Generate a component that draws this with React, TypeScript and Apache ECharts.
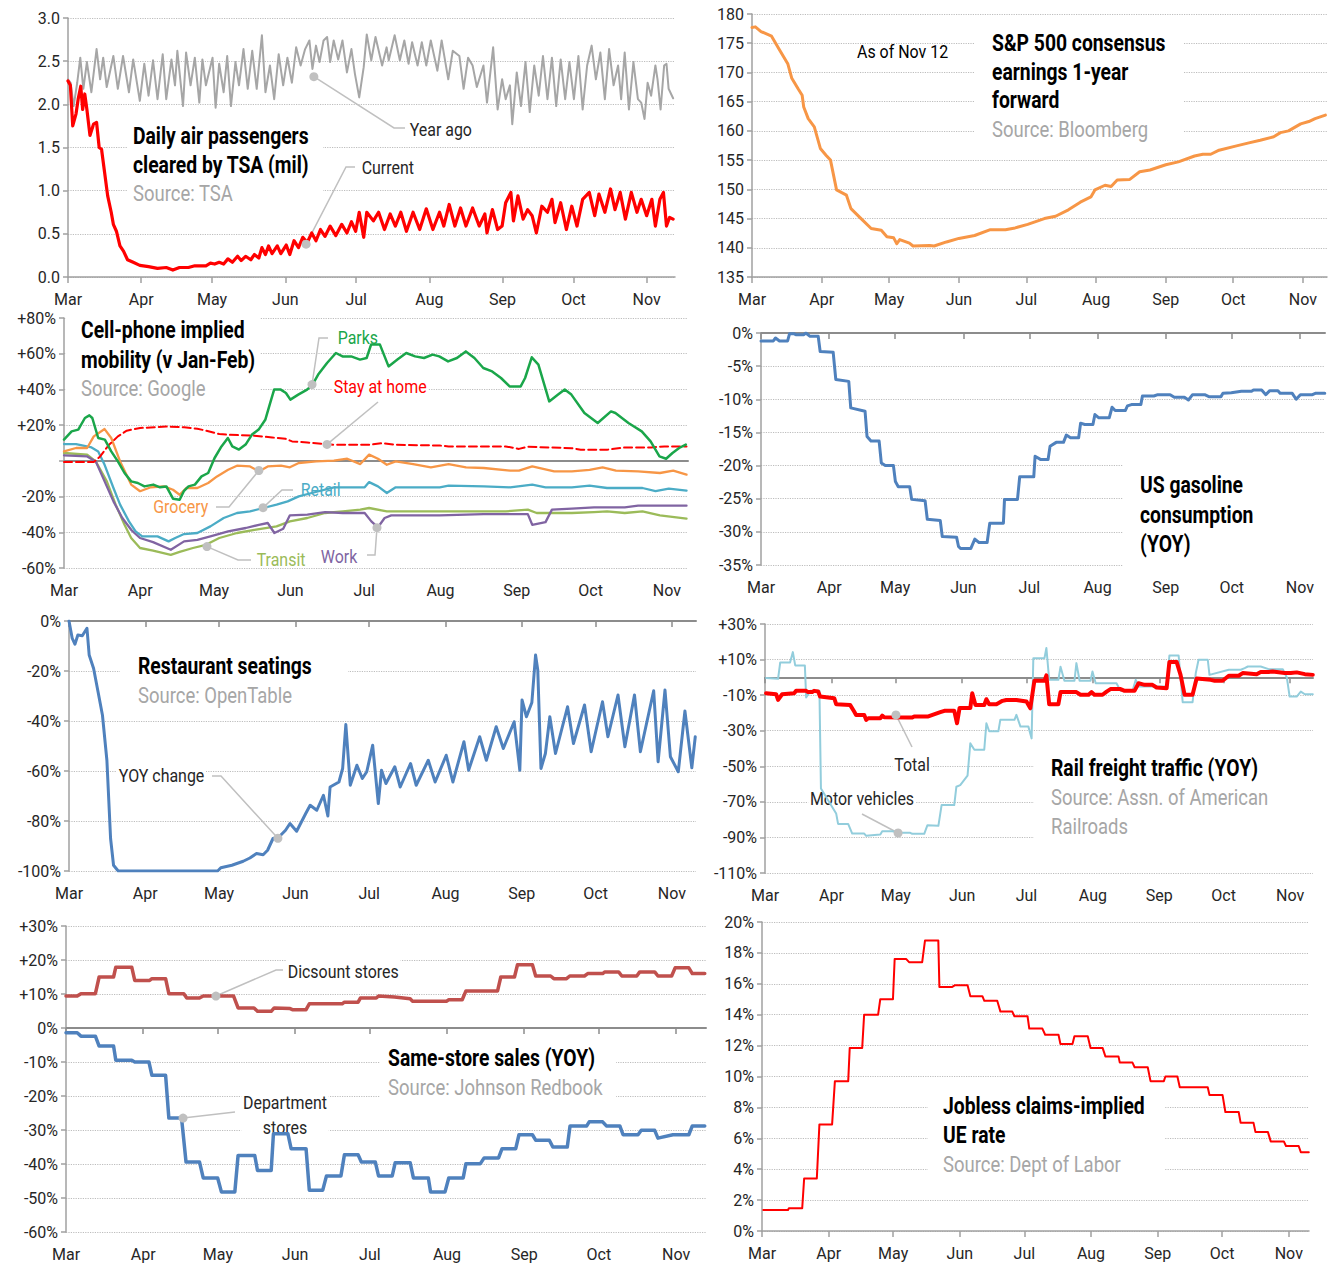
import React, { useEffect, useRef } from 'react';
import * as echarts from 'echarts';

type P = [number, number];

// x = days since Mar 1 (2020)
const monthDays = [0, 31, 61, 92, 122, 153, 184, 214, 245];
const monthNames = ['Mar', 'Apr', 'May', 'Jun', 'Jul', 'Aug', 'Sep', 'Oct', 'Nov'];

// ---- TSA (millions) ----
const tsaCurrent: P[] = [[0,2.27],[1,2.22],[2,1.75],[3.4,1.89],[4.3,2.06],[5.4,2.21],[6.2,1.94],[7.1,2.12],[8,1.94],[9.3,1.64],[10.8,1.77],[12.1,1.79],[13.2,1.5],[14.2,1.48],[15.5,1.21],[16.8,0.94],[18.3,0.75],[19.2,0.61],[20.5,0.53],[22,0.36],[23.5,0.3],[25.2,0.2],[27.6,0.17],[30.4,0.135],[34.1,0.12],[37.9,0.1],[41.6,0.11],[44.4,0.08],[47.2,0.11],[51,0.11],[53.7,0.13],[58.4,0.13],[60.3,0.16],[62.1,0.15],[64,0.17],[65.9,0.15],[67.7,0.21],[69.6,0.17],[71.8,0.24],[73.3,0.19],[75.2,0.24],[77.4,0.2],[78.9,0.26],[80.8,0.22],[82.1,0.34],[83.6,0.26],[84.9,0.36],[86.4,0.27],[88.6,0.36],[90.1,0.27],[92.4,0.37],[93.9,0.26],[95.7,0.42],[97.6,0.34],[99.4,0.46],[101.3,0.4],[103.2,0.51],[105,0.42],[106.9,0.55],[108.8,0.47],[111,0.59],[113.4,0.48],[115.9,0.61],[118.1,0.51],[120,0.64],[121.8,0.53],[123.3,0.75],[125.2,0.46],[126.5,0.75],[129.3,0.65],[131.5,0.75],[134,0.55],[136.4,0.73],[138.6,0.59],[140.9,0.75],[143.3,0.53],[146.1,0.75],[148.9,0.55],[151.7,0.79],[154.5,0.55],[157.3,0.75],[159.1,0.59],[161.4,0.84],[163.8,0.59],[166.2,0.8],[168.5,0.59],[171.3,0.8],[174.1,0.59],[176.5,0.73],[177.4,0.51],[179.7,0.78],[181.9,0.55],[183.8,0.59],[185.3,0.86],[187.5,0.98],[188.6,0.65],[190.5,0.94],[192.7,0.67],[194.6,0.78],[196.5,0.71],[198.3,0.51],[200.6,0.82],[203,0.75],[204.9,0.9],[206.2,0.63],[208.6,0.86],[211,0.55],[213.3,0.82],[215.5,0.59],[217.9,0.9],[220.7,0.98],[223,0.71],[224.8,0.96],[227.3,0.75],[229.7,1.02],[231.6,0.78],[233.8,0.98],[236,0.67],[238.5,0.98],[240.9,0.75],[242.7,0.9],[245,0.71],[247.2,0.9],[248.7,0.59],[250.6,0.9],[252.1,0.98],[253.4,0.59],[254.7,0.69],[256.2,0.67]];
const tsaYearAgo: P[] = [[0,2.29],[1.1,2.25],[2.4,1.98],[3.9,2.25],[5.2,2.54],[6.5,2.18],[8,2.49],[9.9,2.14],[12.1,2.64],[13.6,2.29],[14.9,2.54],[16.4,2.2],[19.2,2.56],[21.1,2.18],[23.3,2.56],[25.8,2.14],[27.6,2.52],[30.4,2.04],[32.3,2.47],[34.1,2.1],[36,2.51],[37.9,2.06],[40.1,2.58],[41.6,2.06],[43.8,2.52],[45.3,2.22],[46.3,2.62],[48.7,1.98],[50,2.6],[51.9,2.22],[53.7,2.54],[55.6,2.02],[56.9,2.52],[58.4,2.22],[61.2,2.54],[62.5,1.96],[64,2.47],[65.9,2.14],[67.4,2.56],[69,1.98],[70.9,2.49],[72.4,2.22],[74.3,2.64],[76.1,2.18],[78,2.62],[79.9,2.18],[82.1,2.8],[83.6,2.14],[85.5,2.45],[87.3,2.06],[89.2,2.58],[91.1,2.22],[92.9,2.54],[94.8,2.25],[96.6,2.66],[98.5,2.45],[100.4,2.64],[102.2,2.74],[103.5,2.41],[105,2.68],[106.5,2.49],[108.2,2.74],[109.7,2.78],[111,2.49],[112.5,2.74],[114.4,2.52],[116.2,2.74],[118.1,2.37],[120,2.64],[121.5,2.35],[123.3,2.08],[125.2,2.43],[126.5,2.81],[128.4,2.51],[130.2,2.78],[133,2.45],[134.9,2.66],[135.8,2.51],[138.3,2.8],[140.5,2.51],[142.4,2.74],[144.2,2.47],[145.7,2.72],[148,2.45],[149.8,2.72],[151.7,2.45],[153.6,2.74],[156.4,2.39],[158.2,2.74],[161,2.29],[162.9,2.62],[165.7,2.56],[167.5,2.18],[169.4,2.54],[171.3,2.45],[173.1,2.2],[175.9,2.45],[177.4,2.02],[180,2.66],[181.9,1.94],[183.8,2.29],[185.3,2.06],[187.1,2.22],[188.1,1.77],[190,2.37],[191.8,1.98],[193.7,2.49],[195.5,1.91],[197.4,2.45],[199.3,2.1],[201.1,2.56],[203,2.06],[204.9,2.54],[206.7,1.98],[208.6,2.52],[210.5,2.06],[212.3,2.49],[214.2,2.06],[216.1,2.56],[217.9,1.94],[219.8,2.45],[221.7,2.68],[223.5,2.29],[225.4,2.6],[227.3,2.06],[229.1,2.64],[231,2.22],[232.9,2.45],[234.2,2.06],[235.7,2.6],[237.5,1.94],[239.4,2.49],[241.3,2.06],[242.7,2.02],[244.1,1.83],[245.4,2.25],[246.9,2.1],[248.7,2.45],[249.6,2.29],[250.9,1.94],[252.4,2.45],[253.4,2.47],[254.3,2.18],[256.2,2.07]];

// ---- S&P 500 consensus earnings ----
const spEarnings: P[] = [[0,177.7],[1.5,177.8],[4,177],[8.7,176.2],[12,174],[15.9,171.5],[17.7,169],[20.5,167.2],[22.3,166.1],[23,164.1],[25,162.1],[27.7,160.7],[30.4,157],[33,155.8],[34.9,155],[37.6,149.9],[42,149],[44,146.7],[48.5,145],[53,143.3],[57.5,143],[60,141.9],[63,141.7],[64.4,140.7],[65.7,141.4],[70,140.8],[71.6,140.3],[79,140.4],[81,140.3],[86.5,141],[92,141.6],[99,142.1],[106,143.1],[112.7,143.1],[117,143.4],[122.6,144],[130,145],[135,145.4],[140.7,146.5],[146,147.8],[150.7,148.7],[152.5,149.9],[157,150.7],[159.7,150.5],[162.4,151.6],[168,151.7],[172.4,153],[177,153.3],[184,154.2],[189.6,154.7],[196.8,155.7],[200.5,156],[204,156],[207.7,156.7],[215,157.4],[220.5,157.9],[226,158.4],[232,159],[235,159.7],[238.6,160],[244,161.2],[247.6,161.6],[250.4,162.1],[255,162.7]];

// ---- Google mobility (% vs Jan-Feb) ----
const parks: P[] = [[0,11.9],[3.1,16.5],[5.8,17.5],[8.5,24],[10.3,25.5],[11.5,24],[13.9,12.8],[16.6,11.9],[19.2,5.3],[21.9,-0.3],[24.6,-6.8],[27.3,-11.5],[30,-12.4],[32.7,-14.3],[36.3,-13.3],[39,-14.8],[41.6,-14.3],[44.3,-21.2],[47,-21.8],[48.7,-17],[50.6,-14.3],[53.2,-13.3],[55.9,-8.7],[58.6,-6.8],[61.2,1.6],[64,8.1],[66.6,12.8],[68.4,8.1],[71.1,6.3],[73.8,9.1],[76.4,14.7],[79.1,17.5],[81.8,23],[83.6,31.5],[85.4,39.9],[88.1,39.9],[90.2,38],[92,34.3],[95.2,37.1],[98.8,39.9],[101,42.7],[103.3,48.3],[106.9,54.8],[110.5,60.4],[113.2,58.5],[116.7,58.5],[120.3,56.7],[123,57.6],[124.8,65.1],[128.4,65.1],[131.9,52.9],[135.5,56.7],[139.1,60.4],[142.7,58.5],[146.3,57.6],[149.8,59.5],[152.5,58.5],[156.1,55.7],[159.7,57.6],[163.3,61.3],[166.8,57.6],[170.4,52],[174,50.1],[177.6,46.4],[181.1,41.7],[185.6,41.7],[187.4,46.4],[190.1,58],[192.8,53.9],[197.2,33.3],[200.8,37.1],[203.5,39.9],[206.2,37.1],[211.5,26.8],[216.9,21.2],[222.3,27.7],[224.1,26.8],[229.4,21.2],[234.8,16.5],[238.4,10.9],[242,2.5],[244.7,1.2],[247.3,4.4],[250,7.2],[252.7,9.1]];
const stayHome: P[] = [[0,-0.7],[12.1,-0.7],[14.7,2.5],[18.3,9],[21.9,13.7],[25.5,16.9],[30.9,18.4],[41.6,19.2],[48.8,18.8],[54.2,18],[57.7,16.9],[63.1,15],[66.7,14.6],[77.4,14.1],[84.6,13.1],[90,12.4],[92.7,10.9],[98.9,10.3],[109.7,9],[124,9],[129.4,9.9],[134.8,9],[152.7,8.6],[156.3,8.1],[179.5,8.1],[184.9,6.7],[188.5,7.9],[206.4,7.1],[210,6.2],[220.7,6.2],[227.9,7.5],[238.6,7.5],[244,8.1],[253,8.1]];
const grocery: P[] = [[0,5.3],[4.9,7.2],[9.4,7.2],[12.1,13.7],[16.5,17.8],[19.2,12.8],[22.8,-0.3],[27.3,-13.3],[30.9,-17],[35.3,-14.8],[40.7,-14.3],[44.3,-16.2],[47,-19],[49.7,-15.2],[54.2,-15.2],[58.6,-12.4],[62.2,-8.7],[66.7,-5],[70.3,-2.7],[75.6,-3.1],[79.2,-5.9],[82.8,-3.1],[88.2,-2.7],[91.8,-3.6],[95.4,-1.2],[102.5,-0.3],[109.7,0.1],[115.1,1.2],[120.4,-1.8],[124,3.5],[127.6,1.2],[131.2,-2.2],[134.8,-0.3],[141.9,-1.8],[149.1,-3.6],[156.3,-1.8],[163.4,-3.6],[170.6,-4],[181.3,-5.5],[184.9,-5.5],[190.3,-3.1],[199.2,-5.9],[206.4,-5.9],[213.6,-5],[218.9,-3.6],[224.3,-5.5],[233.3,-5.9],[242.2,-6.8],[247.6,-5.5],[253,-7.7]];
const retail: P[] = [[0,9.4],[4.9,9.4],[11.2,7.5],[13.9,5.3],[16.5,-2.2],[20.1,-15.2],[22.8,-24.5],[26.4,-33.9],[29.1,-39.5],[31.8,-42.3],[38,-42.3],[42.5,-45.1],[45.2,-43.2],[48.8,-41],[54.2,-40.4],[59.5,-36.7],[64.9,-32],[70.3,-29.2],[75.6,-28.3],[81,-26.4],[86.4,-24.5],[90.9,-22.7],[95.4,-19.9],[100.7,-18],[109.7,-14.8],[116.8,-14.8],[122.2,-14.8],[124,-11.9],[127.6,-14.3],[131.2,-18],[134.8,-14.8],[152.7,-14.8],[156.3,-13.9],[170.6,-14.3],[181.3,-14.8],[190.3,-13.3],[195.7,-14.8],[206.4,-14.8],[213.6,-13.9],[220.7,-15.2],[235.1,-15.2],[240.4,-17],[245.8,-15.6],[253,-16.7]];
const work: P[] = [[0,3.1],[9.4,2.5],[12.9,-0.3],[16.5,-11.5],[20.1,-22.7],[23.7,-32],[27.3,-38.6],[30.9,-43.2],[36.2,-45.5],[43.4,-49.8],[48.8,-45.1],[54.2,-44.2],[59.5,-42.3],[66.7,-39.5],[73.9,-37.6],[79.2,-35.8],[82.8,-34.8],[85.5,-40.4],[89.1,-38],[91.8,-30.5],[98.9,-30.1],[106.1,-28.7],[113.3,-29.2],[122.2,-29.2],[124.9,-33.9],[127.6,-37.2],[130.3,-32],[133,-30.5],[152.7,-30.5],[170.6,-29.8],[188.5,-29.8],[190.3,-35.8],[195.7,-34.3],[198.3,-27.3],[206.4,-26.8],[215.4,-26],[227.9,-26],[233.3,-25.1],[247.6,-25.1],[253,-25.1]];
const transit: P[] = [[0,4.4],[9.4,3.5],[12.9,-0.3],[17.4,-11.5],[21,-24.5],[24.6,-35.8],[27.3,-43.2],[30.9,-48.8],[36.2,-50.3],[43.4,-52.6],[47,-51],[52.4,-48.8],[57.7,-47],[63.1,-43.2],[70.3,-40.4],[77.4,-38.6],[86.4,-36.7],[91.8,-33.9],[98.9,-32],[106.1,-29.2],[113.3,-28.3],[120.4,-27.3],[124,-26.4],[131.2,-28.3],[152.7,-28.3],[179.5,-28.3],[188.5,-27.3],[192.1,-29.2],[206.4,-29.2],[215.4,-28.7],[220.7,-28.3],[227.9,-29.2],[235.1,-28.3],[242.2,-30.5],[253,-32.4]];

// ---- US gasoline consumption (YOY %) ----
const gasoline: P[] = [[0,-1.2],[5.6,-1.2],[6.6,-0.75],[8.4,-1.2],[12.1,-1.2],[13,-0.1],[14.9,-0.1],[15.8,-0.25],[19.5,-0.25],[20.4,0],[22.3,-0.5],[26,-0.5],[26.9,-2.8],[32.8,-2.9],[34,-7],[39.9,-7.3],[40.8,-11.3],[47.3,-11.8],[48.2,-15.6],[50,-16.3],[53.7,-16.3],[54.7,-19.6],[56.5,-20],[60.2,-20],[61.1,-22.4],[62.4,-23.2],[67.6,-23.2],[68.5,-25.1],[74.6,-25.3],[75.6,-28.1],[81.5,-28.3],[82.4,-30.7],[88.9,-30.8],[89.8,-32.2],[90.7,-32.5],[95.4,-32.5],[97.2,-31.1],[99.1,-31.6],[102.8,-31.6],[104,-28.7],[110.2,-28.7],[110.7,-25.1],[116.6,-25.1],[117.6,-21.7],[124,-21.7],[124.6,-18.6],[127.2,-19.1],[130.5,-19.1],[131.4,-17.1],[134.2,-16.5],[137.5,-16.5],[138.8,-15.4],[140.7,-15.8],[144.4,-15.8],[145.3,-13.6],[147.2,-13.8],[150.9,-13.8],[151.8,-12.3],[153.6,-12.8],[158.3,-12.8],[159.6,-11.2],[161,-11.7],[165.6,-11.7],[166.6,-11],[168.4,-10.8],[172.7,-10.8],[173.4,-9.5],[178.6,-9.5],[180.4,-9.3],[186,-9.3],[187.9,-9.7],[192.5,-9.7],[194.3,-10.1],[196.2,-9.3],[201.7,-9.3],[203.6,-9.6],[209.1,-9.6],[210,-9.1],[213.8,-9],[218.4,-8.8],[223,-8.8],[223.9,-8.6],[227.6,-8.6],[229.5,-9.3],[231.3,-8.7],[235,-8.7],[236,-9.1],[241.5,-9.1],[243.3,-10],[245.2,-9.3],[250.7,-9.3],[252,-9.1],[256.3,-9.1]];

// ---- Restaurant seatings (YOY %) ----
const restaurant: P[] = [[0,0],[1.3,-6.9],[2.4,-9.3],[3.6,-5.6],[5.4,-5.9],[7.3,-2.9],[8.2,-13.6],[10,-19],[11.8,-28.3],[13.6,-37.7],[15.4,-55.7],[16.9,-87],[18.1,-97.7],[20,-100],[60.4,-100],[61.7,-98.7],[66.2,-97.7],[70.8,-96.1],[73.5,-94.8],[76.2,-93],[78.9,-93.5],[80.7,-91.7],[82.9,-87],[85.3,-86.4],[88,-83.7],[89.8,-81],[92.5,-84.1],[96.2,-77],[98,-73.7],[100.7,-75.7],[103.4,-69.7],[105.2,-78],[106.1,-66.4],[109.7,-64.4],[111.2,-59],[112.5,-41.4],[114.3,-65.7],[117,-57.7],[119.2,-63],[121,-60.3],[123.4,-49.7],[125.7,-73],[127,-59.7],[128.8,-65],[132.4,-58.3],[134.6,-66.4],[138.8,-57],[141.1,-65.7],[146,-55.7],[148.8,-64.4],[153.3,-53.7],[156,-64.4],[160.5,-48.3],[162.4,-59.7],[166.9,-46.3],[169.6,-55.7],[173.6,-42.3],[176.5,-51],[180.9,-40.3],[183.2,-59.7],[184.1,-31.6],[185.9,-38.3],[188.1,-32.6],[189.6,-13.6],[190.5,-19.6],[191.8,-59],[193.6,-53],[195.4,-38.3],[197.7,-53],[202.6,-34.3],[205,-49],[209.5,-33.6],[212.2,-52.3],[216.8,-32.3],[219,-46.3],[223.1,-29.6],[225.9,-50.3],[229.8,-29.6],[232.2,-52.3],[237.6,-27.9],[239.4,-56.3],[242.2,-27.6],[244.4,-54.3],[247.6,-60.3],[250.3,-36],[253.1,-58.7],[254.5,-46.3]];

// ---- Rail freight traffic (YOY %) ----
const railTotal: P[] = [[0.5,-8.9],[5.2,-9.5],[6.1,-12.7],[8,-9.5],[13.6,-8.9],[14.5,-7.6],[19.2,-7.6],[20.1,-8.3],[22,-8.3],[22.9,-7.6],[24.8,-8],[25.7,-10.8],[32.3,-11.7],[33.2,-15.1],[39.7,-15.5],[41.6,-19.2],[42.5,-21.1],[46.3,-21.1],[47.2,-23.9],[48.2,-23],[53.8,-23],[54.7,-21.5],[55.6,-22.4],[66.8,-22.6],[68.7,-22.6],[69.6,-22],[76.2,-22],[81.8,-19.6],[83.7,-18.8],[88.3,-18.8],[89.6,-25.8],[90.8,-17.2],[95.8,-17.2],[96.7,-8.9],[98.2,-15.5],[102.3,-15.5],[103.3,-12.3],[104.6,-15.1],[108,-15.1],[110.8,-13.2],[112.6,-12.7],[117.3,-12.7],[122,-13.6],[123.8,-17.4],[125.7,-1.9],[130.4,-1.9],[131.3,1.1],[132.6,-15.1],[136.9,-15.1],[137.9,-8.3],[145.3,-8.3],[147.2,-9.8],[151,-9.8],[152.4,-8.3],[153.7,-9.8],[157.5,-9.8],[159.4,-8],[161.2,-6.6],[165.9,-6.6],[167.8,-7.6],[172.4,-7.6],[174.3,-3.3],[177.1,-4.2],[180.8,-4.2],[182.7,-5.7],[187.4,-6.1],[188.7,8.6],[192.1,8.6],[193.9,1.4],[195.8,-9.8],[199.5,-9.8],[201.4,-0.7],[207.9,-1.4],[209.8,-1.9],[213.5,-1.9],[216.4,0.9],[221,0.9],[222.9,2.4],[229.4,1.8],[231.3,3],[235,3],[236.9,3.3],[242.5,2.4],[245.3,2.4],[248.1,2.8],[251.9,1.8],[255.6,1.4]];
const railMotor: P[] = [[0.5,-0.4],[6.1,-0.8],[7.1,8.4],[11.7,8.4],[13,14.2],[14.1,6.7],[18.6,6.7],[19.2,-11.3],[21.1,-7.6],[25.4,-7.6],[26.1,-62.5],[33.2,-76.5],[34.1,-82.4],[38.8,-82.4],[40.7,-87.8],[46.3,-87.8],[47.2,-89.1],[53.8,-88.4],[54.7,-86.5],[59.4,-86.5],[63.1,-87.4],[67.8,-87.4],[68.7,-88],[74.3,-88],[75.8,-83.1],[80.9,-83.5],[82.4,-71.8],[88.3,-71.8],[89.3,-61.5],[91.1,-60.6],[94.5,-55.3],[95.8,-37.1],[97.7,-40.7],[102.3,-40.7],[103.3,-25.8],[104.6,-30.3],[108.9,-30.3],[109.8,-23.9],[116.4,-23.9],[117.3,-21.1],[119.2,-27.7],[122.9,-27.7],[124.4,-34.3],[125.2,10.8],[130.4,10.8],[131.3,16.5],[132.6,-1.4],[136.9,-1.4],[137.9,6],[139.7,-1.9],[144.4,-1.9],[145.3,8],[146.8,-1.9],[151.9,-1.9],[152.8,3.3],[154.3,-3.3],[164,-3.3],[165.9,-7.6],[171.5,-7.6],[173,-1.4],[174.3,-5.1],[187.4,-5.1],[188.7,12.3],[193,12.3],[194.9,-14],[199.5,-14],[201,2.4],[202.3,9.9],[206.6,9.9],[207.4,1.4],[216.4,4.3],[222,4.3],[223.8,5.2],[225.3,6.1],[231.3,6.1],[235,4.6],[241.6,4.6],[243.5,-0.1],[244.8,-10.8],[248.1,-10.8],[250,-8],[251.9,-9.5],[255.6,-9.5]];

// ---- Same-store sales (YOY %) ----
const discountStores: P[] = [[0,9.4],[4.5,9.4],[6,10.1],[11.8,10.1],[13.3,15],[19.1,15],[20,17.9],[26.4,17.9],[27.6,14],[33.6,14],[34.5,14.5],[40,14.5],[41.3,10.1],[47.3,10.1],[48.5,8.8],[53.6,8.8],[55.1,9.4],[67.3,9.4],[69.1,5.9],[75.5,5.9],[76.9,4.9],[82.4,4.9],[83.6,5.9],[90,5.7],[90.9,5.4],[96.4,5.4],[97.7,7.1],[110.9,7.1],[111.8,7.6],[117.3,7.6],[118.2,8.8],[124.6,8.8],[125.5,9.4],[131.9,9.1],[138.2,8.6],[139.1,7.9],[152.8,7.9],[153.7,8.3],[159.1,8.3],[160.6,10.9],[173.3,10.9],[174.6,15],[180.1,15],[181.3,18.6],[187.3,18.6],[188.6,15.3],[194.6,15.3],[195.9,14.5],[201,14.5],[202.3,15.3],[208.2,15.3],[209.5,16],[215.5,16],[216.4,16.5],[221.9,16.5],[223.2,15.3],[229.2,15.3],[230.4,16.5],[236.4,16.5],[237.7,15.3],[243.2,15.3],[244.6,17.7],[250.1,17.7],[251.5,16],[256.5,16]];
const departmentStores: P[] = [[0,-1.4],[4.5,-1.4],[6,-2.4],[11.8,-2.4],[13.3,-5.3],[19.1,-5.3],[20,-9.5],[26.4,-9.5],[27.6,-10],[33.3,-10],[34.5,-13.9],[40,-13.9],[41.3,-26.5],[46.4,-26.5],[48.2,-39.4],[53.6,-39.4],[55.1,-44.1],[60.9,-44.1],[62.4,-48.2],[67.8,-48.2],[69.1,-37.5],[75.8,-37.5],[76.9,-41.9],[82.4,-41.9],[83.3,-31.1],[89.1,-31.1],[90.4,-35.5],[96.4,-35.5],[97.7,-47.7],[103.1,-47.7],[104.6,-43.5],[110.4,-43.5],[111.8,-37.3],[117.3,-37.3],[118.6,-39.4],[124.2,-39.4],[125.5,-43.5],[131,-43.5],[132.2,-39.6],[138.2,-39.6],[139.5,-44.1],[145.5,-44.1],[146.4,-48.2],[152.2,-48.2],[153.7,-44.1],[159.5,-44.1],[160.6,-39.9],[166.4,-39.9],[167.9,-38.2],[173.7,-38.2],[175.1,-35.5],[180.6,-35.5],[181.9,-31.4],[187.3,-31.4],[188.6,-33],[194.1,-33],[195.5,-35],[201.3,-35],[202.4,-28.8],[209.1,-28.8],[210.1,-27.6],[215.5,-27.6],[217,-28.8],[222.4,-28.8],[223.7,-31.4],[229.7,-31.4],[231,-30.1],[236.4,-30.1],[237.7,-32.4],[243.7,-31.4],[250.1,-31.4],[251.5,-28.8],[256.5,-28.8]];

// ---- Jobless claims-implied UE rate (%) ----
const joblessRate: P[] = [[0.6,1.36],[12.1,1.36],[12.5,1.47],[18.7,1.47],[19.6,3.4],[25.5,3.4],[26.7,6.9],[32.6,6.9],[33.9,9.7],[40.1,9.7],[40.8,11.85],[46.6,11.85],[47.5,14],[54,14],[55,15],[60.9,15],[61.7,17.6],[67.1,17.6],[68.4,17.4],[74.5,17.4],[75.8,18.8],[82,18.8],[82.5,15.8],[88.5,15.8],[89.6,15.9],[95.6,15.9],[96.9,15.2],[102.5,15.2],[103.4,14.9],[109.4,14.9],[110.9,14.2],[116.4,14.2],[117.4,13.9],[123.5,13.9],[124.3,13.1],[130.4,13.1],[131.7,12.7],[137.9,12.7],[138.8,12.1],[144.4,12.1],[145.3,12.6],[151.5,12.6],[152.8,11.85],[158.4,11.85],[159.7,11.3],[165.8,11.3],[166.4,10.9],[172.3,10.9],[173.3,10.6],[179.4,10.6],[180.7,9.7],[186.9,9.7],[187.6,10],[193.2,10],[194.3,9.3],[207.3,9.3],[208.1,8.8],[214.2,8.8],[215.5,7.7],[221.7,7.7],[222.6,7],[228.6,7],[229.5,6.4],[235.3,6.4],[236.6,5.8],[242.7,5.8],[243.7,5.5],[249.6,5.5],[250.6,5.1],[254.3,5.1]];

const FONT = 'Roboto, "Liberation Sans", sans-serif';
const AXIS_GRAY = '#a0a0a0';
const GRID_GRAY = '#bdbdbd';
const LABEL = '#262626';
const SOURCE_GRAY = '#a6a6a6';
const ANNO_GRAY = '#c0c0c0';
const SQUEEZE = 0.84; // condensed look for graphic texts

const signedPct = (v: number) => (v > 0 ? '+' + v + '%' : v + '%');

const panels = [
  { left: 68, top: 18, width: 607, height: 259, xMax: 257, yMin: 0, yMax: 3, yInt: 0.5, fmt: (v: number) => v.toFixed(1), zero: 'none' },
  { left: 752, top: 14, width: 575, height: 263, xMax: 255.7, yMin: 135, yMax: 180, yInt: 5, fmt: (v: number) => String(v), zero: 'none' },
  { left: 64, top: 318, width: 624, height: 250, xMax: 253.6, yMin: -60, yMax: 80, yInt: 20, fmt: (v: number) => (v === 0 ? '' : signedPct(v)), zero: 'line' },
  { left: 761, top: 333, width: 564, height: 232, xMax: 256.4, yMin: -35, yMax: 0, yInt: 5, fmt: (v: number) => v + '%', zero: 'ticks' },
  { left: 69, top: 621, width: 627, height: 250, xMax: 254.8, yMin: -100, yMax: 0, yInt: 20, fmt: (v: number) => v + '%', zero: 'ticks' },
  { left: 765, top: 624, width: 548, height: 249, xMax: 255.7, yMin: -110, yMax: 30, yInt: 20, fmt: signedPct, zero: 'ticks' },
  { left: 66, top: 926, width: 640, height: 306, xMax: 257, yMin: -60, yMax: 30, yInt: 10, fmt: signedPct, zero: 'ticks' },
  { left: 762, top: 922, width: 547, height: 309, xMax: 254.4, yMin: 0, yMax: 20, yInt: 2, fmt: (v: number) => v + '%', zero: 'none' },
];

// text blocks: [x, y(center), text, kind]
const titles: [number, number, string, string][] = [
  [133, 136, 'Daily air passengers', 'b'], [133, 165, 'cleared by TSA (mil)', 'b'], [133, 193, 'Source: TSA', 's'],
  [857, 52, 'As of Nov 12', 'n'],
  [992, 43, 'S&P 500 consensus', 'b'], [992, 72, 'earnings 1-year', 'b'], [992, 100, 'forward', 'b'], [992, 129, 'Source: Bloomberg', 's'],
  [81, 330, 'Cell-phone implied', 'b'], [81, 360, 'mobility (v Jan-Feb)', 'b'], [81, 388, 'Source: Google', 's'],
  [1140, 485, 'US gasoline', 'b'], [1140, 515, 'consumption', 'b'], [1140, 544, '(YOY)', 'b'],
  [138, 666, 'Restaurant seatings', 'b'], [138, 695, 'Source: OpenTable', 's'],
  [1051, 768, 'Rail freight traffic (YOY)', 'b'], [1051, 797, 'Source: Assn. of American', 's'], [1051, 826, 'Railroads', 's'],
  [388, 1058, 'Same-store sales (YOY)', 'b'], [388, 1087, 'Source: Johnson Redbook', 's'],
  [943, 1106, 'Jobless claims-implied', 'b'], [943, 1135, 'UE rate', 'b'], [943, 1164, 'Source: Dept of Labor', 's'],
];
const masks: [number, number, number, number][] = [
  [127, 120, 196, 88], [975, 28, 208, 116], [66, 310, 194, 92], [1123, 455, 205, 115],
  [120, 648, 228, 62], [1034, 748, 294, 96], [380, 1040, 236, 62], [928, 1088, 237, 92],
];

type Anno = { s: string; dot: P; path: P[]; text: string; x: number; y: number; align: string; color: string; bg: boolean };
const annotations: Anno[] = [
  { s: 'tsaYearAgo', dot: [104.1, 2.32], path: [[394, 128], [405, 128]], text: 'Year ago', x: 408, y: 130, align: 'left', color: LABEL, bg: true },
  { s: 'tsaCurrent', dot: [100.8, 0.38], path: [[346, 167], [355, 167]], text: 'Current', x: 360, y: 168, align: 'left', color: LABEL, bg: true },
  { s: 'parks', dot: [100.8, 42.7], path: [[319, 338], [328, 338]], text: 'Parks', x: 336, y: 338, align: 'left', color: '#1aa64a', bg: false },
  { s: 'stayHome', dot: [106.9, 9.2], path: [[378, 402]], text: 'Stay at home', x: 332, y: 387, align: 'left', color: '#ff0000', bg: true },
  { s: 'grocery', dot: [79.2, -5.4], path: [[229, 507], [216, 507]], text: 'Grocery', x: 210, y: 507, align: 'right', color: '#f79646', bg: false },
  { s: 'retail', dot: [80.9, -26.2], path: [[282, 490], [293, 490]], text: 'Retail', x: 299, y: 490, align: 'left', color: '#4bacc6', bg: false },
  { s: 'transit', dot: [58.1, -48], path: [[238, 560], [251, 560]], text: 'Transit', x: 255, y: 560, align: 'left', color: '#9bbb59', bg: false },
  { s: 'work', dot: [127.2, -37.4], path: [[375, 555], [367, 555]], text: 'Work', x: 359, y: 557, align: 'right', color: '#8064a2', bg: false },
  { s: 'restaurant', dot: [84.9, -86.9], path: [[221, 776], [212, 776]], text: 'YOY change', x: 206, y: 776, align: 'right', color: LABEL, bg: true },
  { s: 'railTotal', dot: [61.1, -21.1], path: [[912, 747]], text: 'Total', x: 912, y: 765, align: 'center', color: LABEL, bg: true },
  { s: 'railMotor', dot: [62.1, -87.5], path: [[862, 814]], text: 'Motor vehicles', x: 862, y: 799, align: 'center', color: LABEL, bg: true },
  { s: 'discountStores', dot: [60.2, 9.4], path: [[276, 970], [283, 970]], text: 'Dicsount stores', x: 286, y: 972, align: 'left', color: LABEL, bg: true },
  { s: 'departmentStores', dot: [47, -26.5], path: [[235, 1112]], text: 'Department\nstores', x: 285, y: 1115, align: 'center', color: LABEL, bg: true },
];

export default function App() {
  const ref = useRef<HTMLDivElement>(null);
  useEffect(() => {
    document.body.style.margin = '0';
    const chart = echarts.init(ref.current!, null, { renderer: 'svg' });
    const grids: any[] = [];
    const xAxes: any[] = [];
    const yAxes: any[] = [];
    const mainX: number[] = [];
    const labelStyle = { fontFamily: FONT, fontSize: 16, color: LABEL };
    panels.forEach((p, i) => {
      grids.push({ left: p.left, top: p.top, width: p.width, height: p.height });
      mainX.push(xAxes.length);
      const bottomLine = p.zero === 'none';
      xAxes.push({
        type: 'value', gridIndex: i, min: 0, max: p.xMax,
        axisLine: { show: bottomLine, onZero: false, lineStyle: { color: AXIS_GRAY, width: 1.5 } },
        axisTick: { show: bottomLine, customValues: monthDays, length: 6, lineStyle: { color: AXIS_GRAY, width: 1.5 } },
        axisLabel: { ...labelStyle, customValues: monthDays, margin: 14, formatter: (v: number) => monthNames[monthDays.indexOf(v)] ?? '' },
        splitLine: { show: false },
      });
      if (!bottomLine) {
        xAxes.push({
          type: 'value', gridIndex: i, min: 0, max: p.xMax, position: 'bottom',
          axisLine: { show: true, onZero: true, lineStyle: { color: '#8c8c8c', width: 2 } },
          axisTick: { show: p.zero === 'ticks', customValues: monthDays, length: 6, lineStyle: { color: '#8c8c8c', width: 1.5 } },
          axisLabel: { show: false },
          splitLine: { show: false },
        });
      }
      yAxes.push({
        type: 'value', gridIndex: i, min: p.yMin, max: p.yMax, interval: p.yInt,
        axisLine: { show: true, lineStyle: { color: AXIS_GRAY, width: 1.5 } },
        axisTick: { show: true, length: 5, lineStyle: { color: AXIS_GRAY, width: 1.5 } },
        axisLabel: { ...labelStyle, margin: 8, formatter: p.fmt },
        splitLine: { show: true, lineStyle: { type: 'dotted', color: GRID_GRAY, width: 1.2 } },
      });
    });

    const series: any[] = [];
    const idx: Record<string, number> = {};
    const add = (name: string, panel: number, data: P[], color: string, width: number, type = 'solid') => {
      idx[name] = series.length;
      series.push({
        type: 'line', name, xAxisIndex: mainX[panel], yAxisIndex: panel, data,
        showSymbol: false, symbol: 'none', silent: true,
        lineStyle: { color, width, type, cap: 'round', join: 'round' },
      });
    };
    add('tsaYearAgo', 0, tsaYearAgo, '#a6a6a6', 2);
    add('tsaCurrent', 0, tsaCurrent, '#ff0000', 3.2);
    add('spEarnings', 1, spEarnings, '#f79646', 3);
    add('transit', 2, transit, '#9bbb59', 2.3);
    add('work', 2, work, '#8064a2', 2.3);
    add('retail', 2, retail, '#4bacc6', 2.3);
    add('grocery', 2, grocery, '#f79646', 2.3);
    add('stayHome', 2, stayHome, '#ff0000', 2, 'dashed');
    add('parks', 2, parks, '#1aa64a', 2.5);
    add('gasoline', 3, gasoline, '#4f81bd', 3);
    add('restaurant', 4, restaurant, '#4f81bd', 3);
    add('railMotor', 5, railMotor, '#92cddc', 2);
    add('railTotal', 5, railTotal, '#ff0000', 4);
    add('discountStores', 6, discountStores, '#c0504d', 3.5);
    add('departmentStores', 6, departmentStores, '#4f81bd', 3.5);
    add('joblessRate', 7, joblessRate, '#ff0000', 2);

    chart.setOption({
      animation: false,
      backgroundColor: '#ffffff',
      textStyle: { fontFamily: FONT },
      grid: grids, xAxis: xAxes, yAxis: yAxes, series,
    });

    const g: any[] = [];
    masks.forEach(([x, y, w, h]) => g.push({ type: 'rect', z: 1, silent: true, shape: { x, y, width: w, height: h }, style: { fill: '#ffffff' } }));
    titles.forEach(([x, y, text, kind]) => g.push({
      type: 'text', z: 1.5, x, y, scaleX: SQUEEZE, silent: true,
      style: {
        text, fontFamily: FONT,
        fontSize: kind === 'b' ? 23 : kind === 's' ? 22 : 19,
        fontWeight: kind === 'b' ? 'bold' : 'normal',
        fill: kind === 's' ? SOURCE_GRAY : '#000000',
        align: 'left', verticalAlign: 'middle',
      },
    }));
    annotations.forEach((a) => {
      const pt = chart.convertToPixel({ seriesIndex: idx[a.s] }, a.dot) as number[];
      g.push({ type: 'polyline', z: 3, silent: true, shape: { points: [pt, ...a.path] }, style: { stroke: ANNO_GRAY, lineWidth: 1.5, fill: null } });
      g.push({ type: 'circle', z: 4, silent: true, shape: { cx: pt[0], cy: pt[1], r: 4.5 }, style: { fill: ANNO_GRAY } });
      g.push({
        type: 'text', z: 1.5, x: a.x, y: a.y, scaleX: SQUEEZE, silent: true,
        style: {
          text: a.text, fontFamily: FONT, fontSize: 19, fill: a.color, align: a.align, verticalAlign: 'middle',
          lineHeight: 26, backgroundColor: a.bg ? '#ffffff' : 'transparent', padding: [0, 2],
        },
      });
    });
    chart.setOption({ graphic: g });
    return () => chart.dispose();
  }, []);
  return <div ref={ref} style={{ width: 1328, height: 1264, background: '#ffffff' }} />;
}
